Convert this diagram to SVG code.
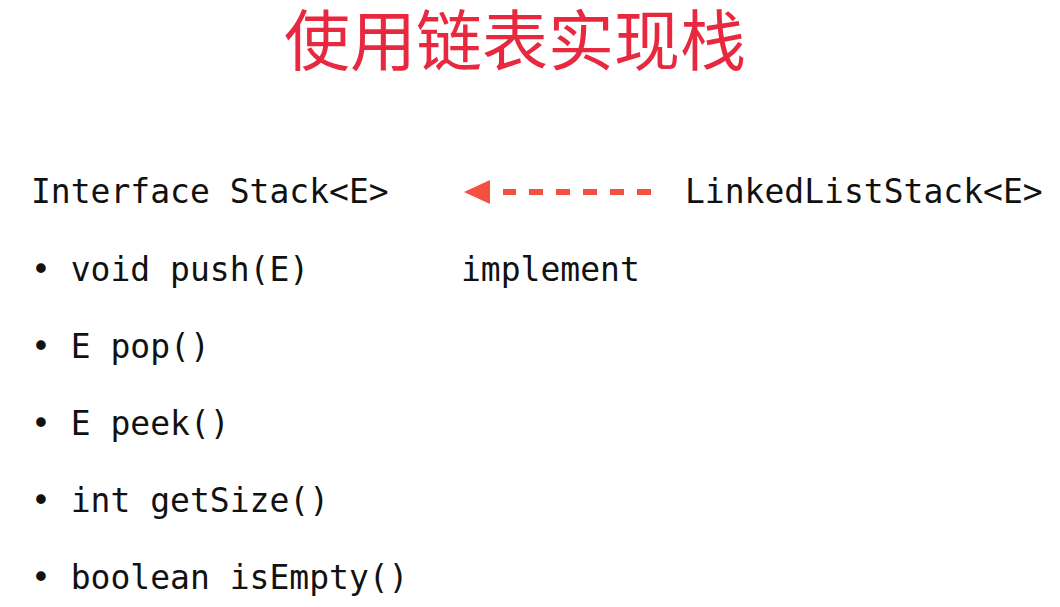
<svg xmlns="http://www.w3.org/2000/svg" width="1060" height="607" viewBox="0 0 1060 607">
<style>
.code{font-family:"DejaVu Sans Mono","Liberation Mono",monospace;font-size:33px;fill:#111111}
.title{font-family:"Noto Sans CJK SC","Noto Sans",sans-serif;font-size:66px;fill:#e8283f}
</style>
<rect width="1060" height="607" fill="#ffffff"/>
<text class="title" x="515" y="65" text-anchor="middle">使用链表实现栈</text>
<g id="interface">
<text class="code" x="31" y="203">Interface Stack&lt;E&gt;</text>
<text class="code" x="31" y="281">• void push(E)</text>
<text class="code" x="31" y="358">• E pop()</text>
<text class="code" x="31" y="435">• E peek()</text>
<text class="code" x="31" y="512">• int getSize()</text>
<text class="code" x="31" y="589">• boolean isEmpty()</text>
</g>
<g id="linkedliststack">
<text class="code" x="685" y="203">LinkedListStack&lt;E&gt;</text>
</g>
<g id="connectors">
<line x1="651" y1="192" x2="503" y2="192" stroke="#f5503f" stroke-width="6" stroke-dasharray="14 13"/>
<polygon points="464,192 490,180 490,204" fill="#f5503f"/>
<text class="code" x="461" y="281">implement</text>
</g>
</svg>
